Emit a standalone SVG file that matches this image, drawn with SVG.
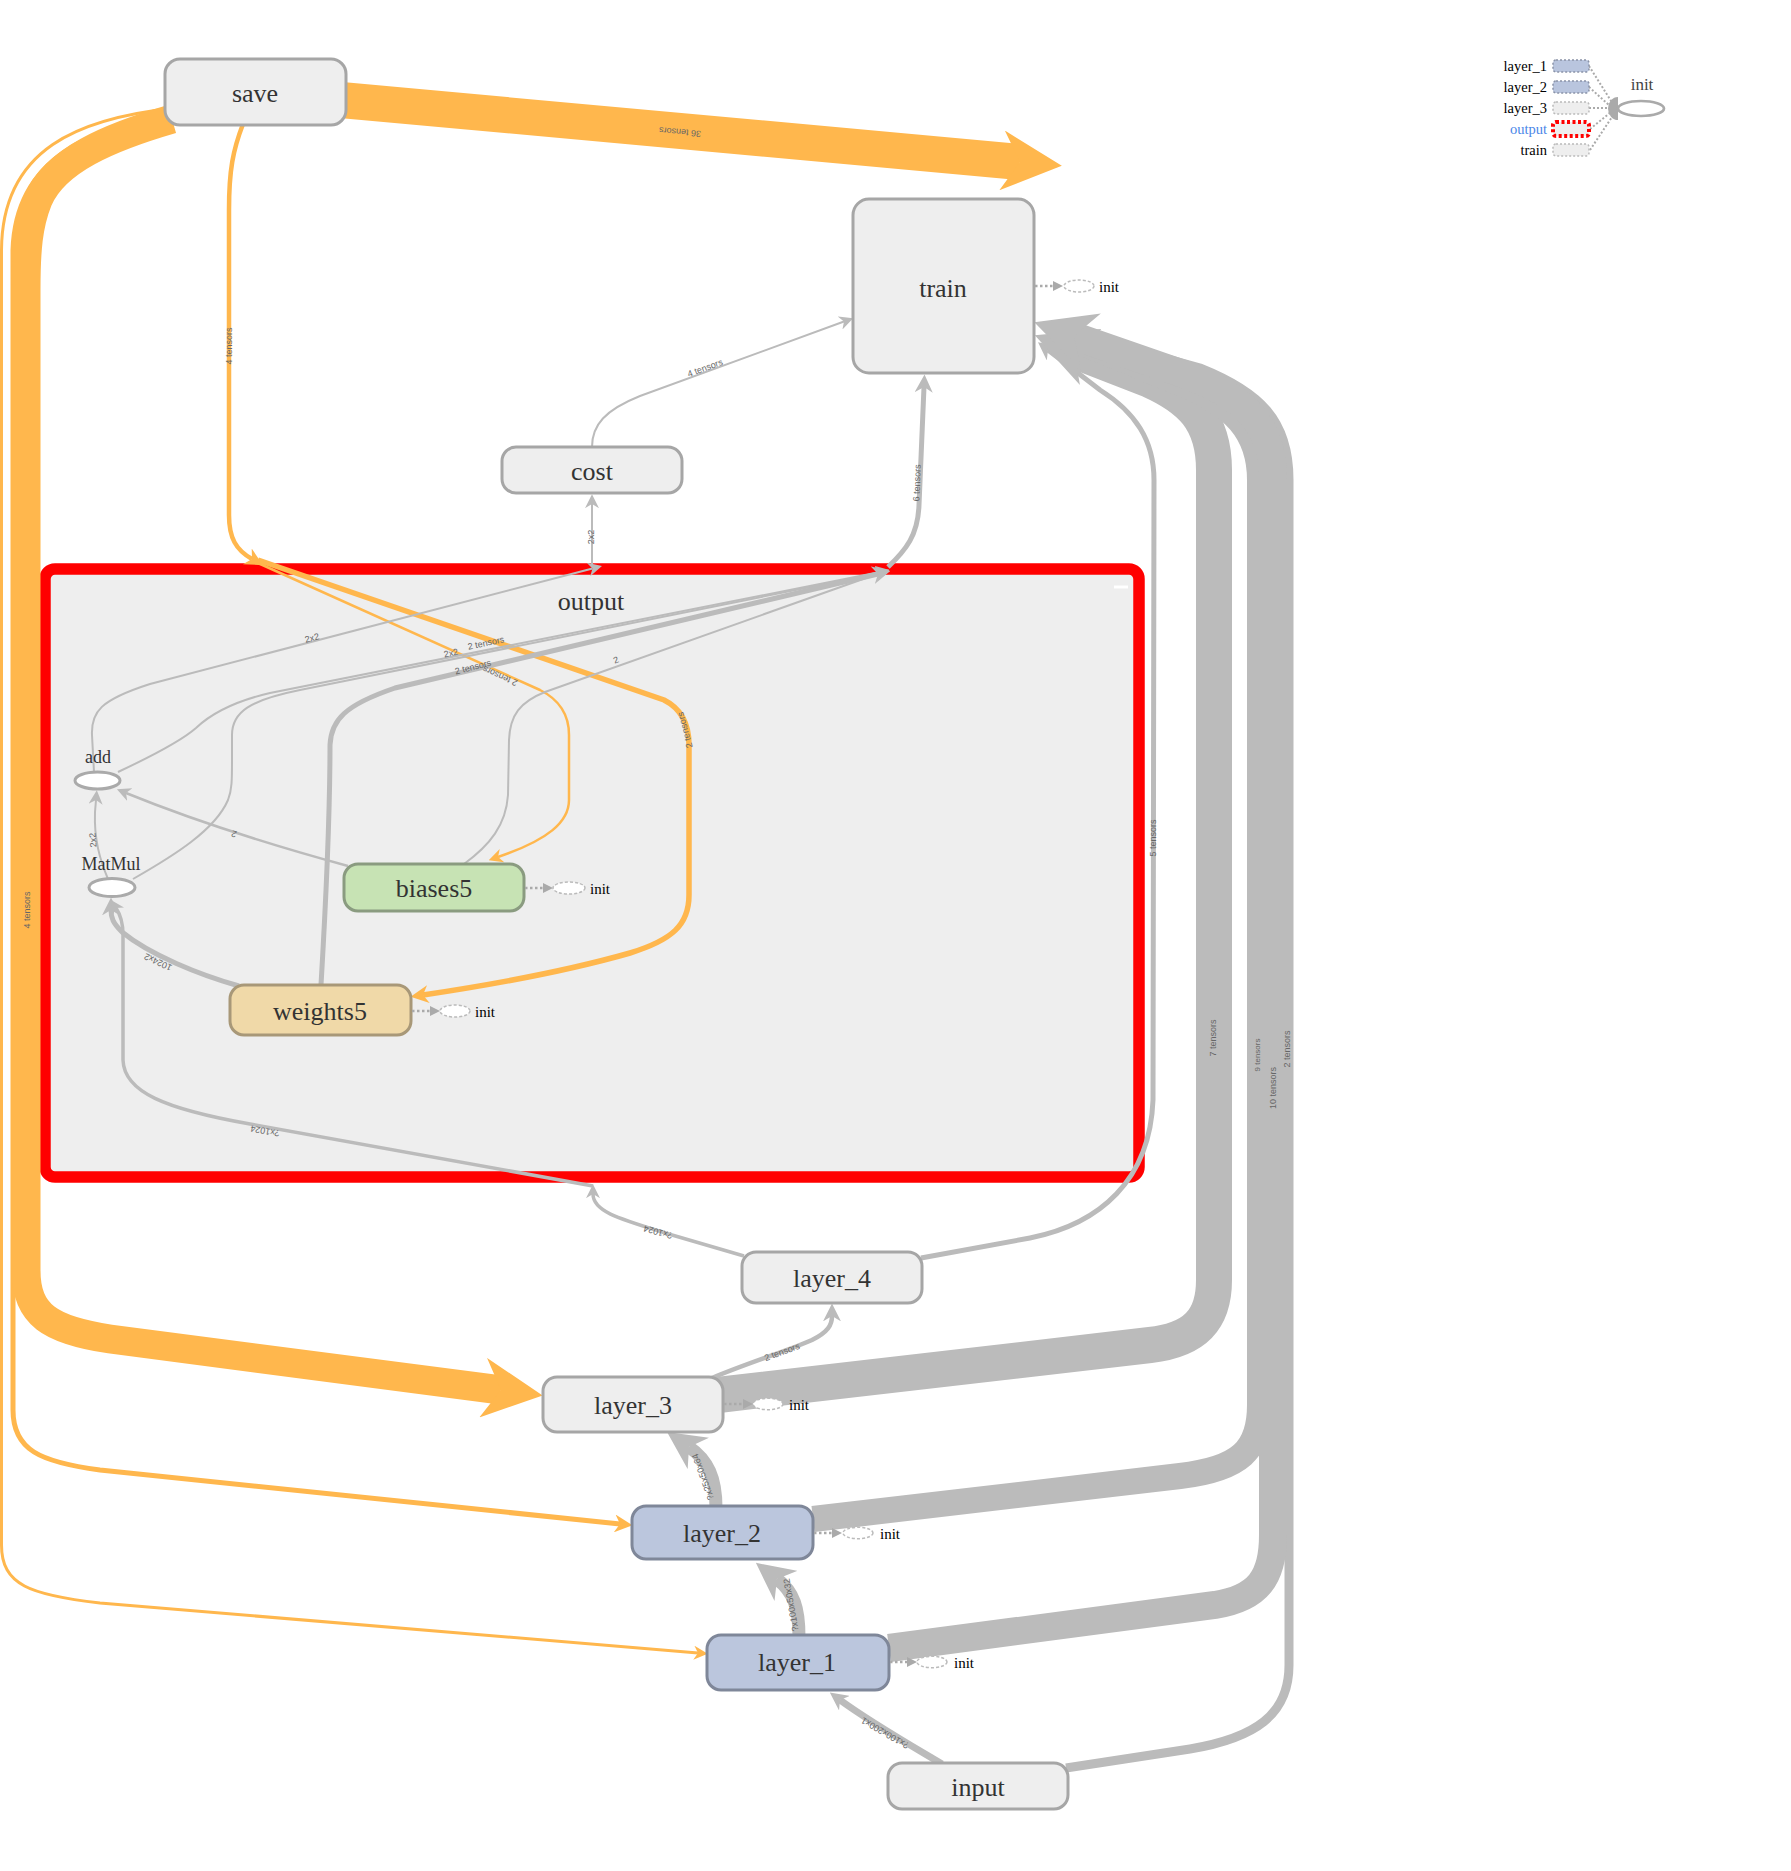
<svg xmlns="http://www.w3.org/2000/svg" width="1791" height="1871" viewBox="0 0 1791 1871">
<style>
.nd{stroke-width:3}
.def{fill:#eee;stroke:#a6a6a6}
.blue{fill:#bbc6dd;stroke:#7f8799}
.lbl{font-family:"Liberation Serif",serif;font-size:26px;fill:#333;text-anchor:middle;dominant-baseline:central}
.sl{font-family:"Liberation Serif",serif;font-size:18px;fill:#333;text-anchor:middle;dominant-baseline:central}
.el{font-family:"Liberation Sans",sans-serif;font-size:9px;fill:#666;text-anchor:middle;dominant-baseline:central}
.g{fill:none;stroke:#bbb}
.o{fill:none;stroke:#ffb74d}
.ie{fill:none;stroke:#aaa;stroke-width:2.5;stroke-dasharray:2.5 2.5}
.ien{fill:#fff;stroke:#bbb;stroke-width:1.5;stroke-dasharray:3 2}
.it{font-family:"Liberation Serif",serif;font-size:15px;fill:#000;dominant-baseline:central}
.lg{font-family:"Liberation Serif",serif;font-size:14.5px;fill:#000;text-anchor:end;dominant-baseline:central}
.lgd{stroke-width:1.5;stroke-dasharray:2 2}
.ld{fill:none;stroke:#aaa;stroke-width:2;stroke-dasharray:2 2}
</style>
<defs>
<marker id="mgS" viewBox="0 0 10 10" refX="3" refY="5" markerWidth="14" markerHeight="14" markerUnits="userSpaceOnUse" orient="auto"><path d="M0,0 L10,5 L0,10 L3,5 Z" fill="#bbb"/></marker>
<marker id="mgM" viewBox="0 0 10 10" refX="3" refY="5" markerWidth="18" markerHeight="18" markerUnits="userSpaceOnUse" orient="auto"><path d="M0,0 L10,5 L0,10 L3,5 Z" fill="#bbb"/></marker>
<marker id="mgL" viewBox="0 0 10 10" refX="3" refY="5" markerWidth="38" markerHeight="38" markerUnits="userSpaceOnUse" orient="auto"><path d="M0,0 L10,5 L0,10 L3,5 Z" fill="#bbb"/></marker>
<marker id="mgXL" viewBox="0 0 10 10" refX="3" refY="5" markerWidth="60" markerHeight="60" markerUnits="userSpaceOnUse" orient="auto"><path d="M0,0 L10,5 L0,10 L3,5 Z" fill="#bbb"/></marker>
<marker id="moS" viewBox="0 0 10 10" refX="3" refY="5" markerWidth="14" markerHeight="14" markerUnits="userSpaceOnUse" orient="auto"><path d="M0,0 L10,5 L0,10 L3,5 Z" fill="#ffb74d"/></marker>
<marker id="moM" viewBox="0 0 10 10" refX="3" refY="5" markerWidth="18" markerHeight="18" markerUnits="userSpaceOnUse" orient="auto"><path d="M0,0 L10,5 L0,10 L3,5 Z" fill="#ffb74d"/></marker>
<marker id="moXL" viewBox="0 0 10 10" refX="3" refY="5" markerWidth="60" markerHeight="60" markerUnits="userSpaceOnUse" orient="auto"><path d="M0,0 L10,5 L0,10 L3,5 Z" fill="#ffb74d"/></marker>
<marker id="mi" viewBox="0 0 10 10" refX="0" refY="5" markerWidth="10" markerHeight="10" markerUnits="userSpaceOnUse" orient="auto"><path d="M0,0 L10,5 L0,10 Z" fill="#aaa"/></marker>
</defs>

<g id="output">
<rect x="45" y="569" width="1094" height="608" rx="10" fill="#eee" stroke="#f00" stroke-width="11.5"/>
<text class="lbl" x="591" y="601">output</text>
<line x1="1114" y1="587" x2="1128" y2="587" stroke="#fff" stroke-width="3"/>
</g>

<g id="connectors">
<!-- orange reference edges from save -->
<path class="o" stroke-width="36" d="M330 99 L1020 162" marker-end="url(#moXL)"/>
<path class="o" stroke-width="3" d="M175 108 C80 118 2 148 1.5 250 L1.5 1545 C1.5 1585 30 1595 100 1603 L698 1653" marker-end="url(#moS)"/>
<path class="o" stroke-width="5" d="M175 113 C95 128 16 155 13 250 L13 1410 C13 1450 40 1462 100 1470 L620 1524" marker-end="url(#moM)"/>
<path class="o" stroke-width="29" d="M172 119 C110 137 55 160 38 200 C28 225 26 250 26 290 L26 1270 C26 1315 50 1330 110 1339 L501 1390" marker-end="url(#moXL)"/>
<path class="o" stroke-width="4.5" d="M243 124 C233 150 229 170 229 210 L229 515 C229 538 236 550 252 559" marker-end="url(#moM)"/>
<path class="o" stroke-width="2.5" d="M258 563 L540 690 C560 700 569 715 569 735 L569 800 C569 822 548 840 498 857" marker-end="url(#moS)"/>
<path class="o" stroke-width="5.5" d="M258 560 L664 700 C680 708 689 722 689 745 L689 895 C689 925 672 940 630 953 C560 973 490 985 423 995" marker-end="url(#moM)"/>

<!-- grey edges -->
<path class="g" stroke-width="2" d="M592 447 C592 425 605 410 640 396 L844 321.5" marker-end="url(#mgS)"/>
<path class="g" stroke-width="2" d="M592 566 L592 504" marker-end="url(#mgS)"/>
<path class="g" stroke-width="5" d="M888 567 C906 550 918 535 919 505 L924 387" marker-end="url(#mgM)"/>
<path class="g" stroke-width="5" d="M921 1258 L1030 1238 C1100 1224 1150 1180 1153 1100 L1154 480 C1154 440 1135 412 1100 390 L1048 350" marker-end="url(#mgM)"/>
<path class="g" stroke-width="36" d="M718 1395 L1150 1345 C1195 1340 1214 1320 1214 1280 L1214 470 C1214 420 1190 398 1150 380 L1074 350.5" marker-end="url(#mgXL)"/>
<path class="g" stroke-width="26" d="M813 1519 L1180 1476 C1240 1469 1260 1450 1260 1405 L1260 480 C1260 430 1232 405 1185 385 L1076 340"/>
<path class="g" stroke-width="9" d="M1066 1768 L1190 1749 C1255 1738 1289 1715 1289 1665 L1289 480 C1289 420 1260 392 1200 368 L1074 333"/>
<path class="g" stroke-width="28" d="M889 1648 L1215 1605 C1258 1598 1273 1578 1273 1535 L1273 480 C1273 425 1245 398 1192 377 L1074 336" marker-end="url(#mgXL)"/>
<path class="g" stroke-width="4.5" d="M712 1378 C750 1362 790 1350 812 1340 C828 1332 832 1325 832 1316" marker-end="url(#mgM)"/>
<path class="g" stroke-width="13" d="M716 1508 C716 1478 708 1460 689 1447" marker-end="url(#mgL)"/>
<path class="g" stroke-width="13" d="M799 1637 C799 1608 794 1592 777 1579" marker-end="url(#mgL)"/>
<path class="g" stroke-width="7" d="M942 1764 C905 1742 870 1722 840 1700" marker-end="url(#mgM)"/>
<path class="g" stroke-width="3.5" d="M744 1256 L672 1235 C620 1219 593 1212 593 1194" marker-end="url(#mgS)"/>

<!-- inside output -->
<path class="g" stroke-width="2" d="M94 772 L92 735 C91 712 100 700 150 684 L592.5 568.5" marker-end="url(#mgS)"/>
<path class="g" stroke-width="2" d="M118 772 C150 757 180 742 196 728 C215 710 240 700 270 693 L880 572" marker-end="url(#mgS)"/>
<path class="g" stroke-width="2" d="M133 879 C175 855 215 830 228 800 C232 790 232 780 232 760 L232 735 C232 712 250 700 300 690 L880 573" marker-end="url(#mgS)"/>
<path class="g" stroke-width="5" d="M321 985 C326 900 330 800 330 745 C331 720 345 705 395 688 L878 574" marker-end="url(#mgM)"/>
<path class="g" stroke-width="2" d="M464 864 C490 845 506 825 508 795 L509 740 C510 715 520 702 545 692 L880 573" marker-end="url(#mgS)"/>
<path class="g" stroke-width="2.5" d="M348 866 C260 842 180 815 126 793" marker-end="url(#mgS)"/>
<path class="g" stroke-width="2" d="M108 879 C100 860 94 840 95 812 L96 800" marker-end="url(#mgS)"/>
<path class="g" stroke-width="5" d="M239 986 C200 975 150 955 122 932 C113 923 111 918 111 910" marker-end="url(#mgM)"/>
<path class="g" stroke-width="3.5" d="M593 1186 L250 1124 C165 1109 124 1092 123 1060 L123 935 C123 922 120 914 116 908" marker-end="url(#mgS)"/>

<!-- edge labels -->
<text class="el" transform="translate(680 132) rotate(185.3)">36 tensors</text>
<text class="el" transform="translate(27 910) rotate(-90)">4 tensors</text>
<text class="el" transform="translate(229 346) rotate(-90)">4 tensors</text>
<text class="el" transform="translate(705 368) rotate(-20)">4 tensors</text>
<text class="el" transform="translate(591 537) rotate(-90)">2x2</text>
<text class="el" transform="translate(917 483) rotate(-88)">6 tensors</text>
<text class="el" transform="translate(1153 838) rotate(-90)">5 tensors</text>
<text class="el" transform="translate(1213 1038) rotate(-90)">7 tensors</text>
<text class="el" style="font-size:8px" transform="translate(1257 1055) rotate(-90)">9 tensors</text>
<text class="el" transform="translate(1273 1088) rotate(-90)">10 tensors</text>
<text class="el" transform="translate(1287 1049) rotate(-90)">2 tensors</text>
<text class="el" transform="translate(782 1352) rotate(-20)">2 tensors</text>
<text class="el" transform="translate(703 1477) rotate(-110)">?x25x50x64</text>
<text class="el" transform="translate(791 1605) rotate(-100)">?x100x50x32</text>
<text class="el" transform="translate(885 1733) rotate(210)">?x100x200x1</text>
<text class="el" transform="translate(658 1232) rotate(195)">?x1024</text>
<text class="el" transform="translate(312 638) rotate(-15)">2x2</text>
<text class="el" transform="translate(486 643) rotate(-12)">2 tensors</text>
<text class="el" transform="translate(451 653) rotate(-12)">2x2</text>
<text class="el" transform="translate(473 667) rotate(-14)">2 tensors</text>
<text class="el" transform="translate(500 676) rotate(204)">2 tensors</text>
<text class="el" transform="translate(616 660) rotate(-22)">2</text>
<text class="el" transform="translate(685 730) rotate(-105)">2 tensors</text>
<text class="el" transform="translate(93 840) rotate(-95)">2x2</text>
<text class="el" transform="translate(234 834) rotate(197)">2</text>
<text class="el" transform="translate(158 962) rotate(205)">1024x2</text>
<text class="el" transform="translate(265 1131) rotate(190)">?x1024</text>
</g>

<g id="add">
<ellipse cx="97.5" cy="780.5" rx="22.5" ry="8.5" fill="#fff" stroke="#aaa" stroke-width="3"/>
<text class="sl" x="98" y="757">add</text>
</g>
<g id="MatMul">
<ellipse cx="112" cy="887.5" rx="23" ry="9" fill="#fff" stroke="#aaa" stroke-width="3"/>
<text class="sl" x="111" y="864">MatMul</text>
</g>
<g id="biases5">
<rect class="nd" x="344" y="864" width="180" height="47" rx="14" fill="#c7e3b4" stroke="#8a9b80"/>
<text class="lbl" x="434" y="888">biases5</text>
<path class="ie" d="M525 888 H543" marker-end="url(#mi)"/>
<ellipse class="ien" cx="569" cy="888" rx="16" ry="6"/>
<text class="it" x="590" y="889">init</text>
</g>
<g id="weights5">
<rect class="nd" x="230" y="985" width="181" height="50" rx="14" fill="#f0d9a8" stroke="#a89878"/>
<text class="lbl" x="320" y="1011">weights5</text>
<path class="ie" d="M412 1011 H430" marker-end="url(#mi)"/>
<ellipse class="ien" cx="455" cy="1011" rx="15" ry="6"/>
<text class="it" x="475" y="1012">init</text>
</g>
<g id="save">
<rect class="nd def" x="165" y="59" width="181" height="66" rx="15"/>
<text class="lbl" x="255" y="93">save</text>
</g>
<g id="train">
<rect class="nd def" x="853" y="199" width="181" height="174" rx="16"/>
<text class="lbl" x="943" y="288">train</text>
<path class="ie" d="M1035 286 H1053" marker-end="url(#mi)"/>
<ellipse class="ien" cx="1079" cy="286" rx="15" ry="6"/>
<text class="it" x="1099" y="287">init</text>
</g>
<g id="cost">
<rect class="nd def" x="502" y="447" width="180" height="46" rx="14"/>
<text class="lbl" x="592" y="471">cost</text>
</g>
<g id="layer_4">
<rect class="nd def" x="742" y="1252" width="180" height="51" rx="14"/>
<text class="lbl" x="832" y="1278">layer_4</text>
</g>
<g id="layer_3">
<rect class="nd def" x="543" y="1377" width="180" height="55" rx="14"/>
<text class="lbl" x="633" y="1405">layer_3</text>
<path class="ie" d="M724 1404 H743" marker-end="url(#mi)"/>
<ellipse class="ien" cx="768" cy="1404" rx="15" ry="5.7"/>
<text class="it" x="789" y="1405">init</text>
</g>
<g id="layer_2">
<rect class="nd blue" x="632" y="1506" width="181" height="53" rx="14"/>
<text class="lbl" x="722" y="1533">layer_2</text>
<path class="ie" d="M814 1533 H832" marker-end="url(#mi)"/>
<ellipse class="ien" cx="858" cy="1533" rx="15" ry="5.7"/>
<text class="it" x="880" y="1534">init</text>
</g>
<g id="layer_1">
<rect class="nd blue" x="707" y="1635" width="182" height="55" rx="14"/>
<text class="lbl" x="797" y="1662">layer_1</text>
<path class="ie" d="M890 1662 H907" marker-end="url(#mi)"/>
<ellipse class="ien" cx="932" cy="1662" rx="15" ry="5.7"/>
<text class="it" x="954" y="1663">init</text>
</g>
<g id="input">
<rect class="nd def" x="888" y="1763" width="180" height="46" rx="14"/>
<text class="lbl" x="978" y="1787">input</text>
</g>

<g id="init">
<path class="ld" d="M1589 66 L1613 104 M1589 87 L1610 106 M1589 108 L1608 108 M1590 129 L1611 112 M1590 150 L1614 114"/>
<rect class="lgd" x="1553" y="60" width="36" height="12" rx="3" fill="#b9c5de" stroke="#8a93a8"/>
<rect class="lgd" x="1553" y="81" width="36" height="12" rx="3" fill="#b9c5de" stroke="#8a93a8"/>
<rect class="lgd" x="1553" y="102" width="36" height="12" rx="3" fill="#eee" stroke="#bbb"/>
<rect x="1553" y="122" width="36" height="14" rx="3" fill="#eee" stroke="#f00" stroke-width="4" stroke-dasharray="3 2.5"/>
<rect class="lgd" x="1553" y="144" width="36" height="12" rx="3" fill="#eee" stroke="#bbb"/>
<text class="lg" x="1547" y="66">layer_1</text>
<text class="lg" x="1547" y="87">layer_2</text>
<text class="lg" x="1547" y="108">layer_3</text>
<text class="lg" x="1547" y="129" style="fill:#4a86e8">output</text>
<text class="lg" x="1547" y="150">train</text>
<path d="M1618 97 A10 11.5 0 0 0 1618 120 Z" fill="#aaa"/>
<ellipse cx="1641" cy="108.5" rx="23" ry="7.5" fill="#fff" stroke="#aaa" stroke-width="2.7"/>
<text x="1642" y="84" style="font-family:'Liberation Serif',serif;font-size:17px;fill:#444;text-anchor:middle;dominant-baseline:central">init</text>
</g>
</svg>
